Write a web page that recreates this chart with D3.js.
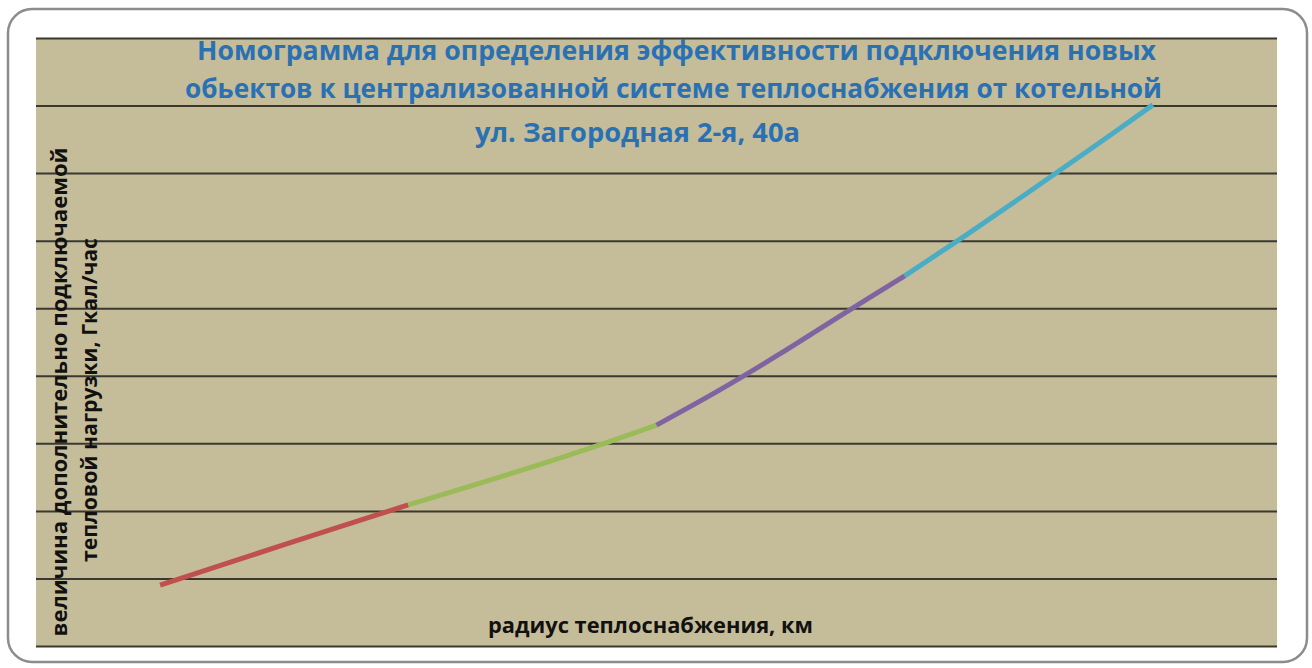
<!DOCTYPE html>
<html>

<head>
  <title>Номограмма</title>
  <meta charset="UTF-8" />
  <script src="https://d3js.org/d3.v7.min.js"></script>
</head>

<style>
  body {
    margin: 0;
    background: white;
    font-family: 'Open Sans', 'Noto Sans', sans-serif;
  }

  .title {
    fill: #2a71b4;
    font-weight: bold;
    font-size: 27px;
  }

  .axis-label {
    fill: #111;
    font-weight: bold;
    font-size: 21px;
  }
</style>

<body>
  <svg></svg>
  <script>
    // curve, split into four coloured pieces
    const radiusKm = [1, 2, 3, 4, 4.5, 5, 5.5, 6, 6.5, 7, 7.5, 8, 8.5, 9];
    const loadGcal = [0.9, 1.5, 2.09, 2.65, 2.95, 3.27, 3.78, 4.33, 4.91, 5.48, 6.09, 6.72, 7.36, 8.01];
    const pieces = [[0, 2], [2, 5], [5, 9], [9, 13]];
    const pieceColors = ['#c0504d', '#9bbb59', '#8064a2', '#4bacc6'];
    const gridValues = [0, 1, 2, 3, 4, 5, 6, 7, 8, 9];

    const titleLines = [
      'Номограмма для определения эффективности подключения новых',
      'обьектов к централизованной системе теплоснабжения от котельной',
      'ул. Загородная 2-я, 40а'
    ];
    const yLabelLines = [
      'величина дополнительно подключаемой',
      'тепловой нагрузки, Гкал/час'
    ];
    const xLabel = 'радиус теплоснабжения, км';

    let width = 1312,
      height = 668;

    let svg = d3.select('svg').attr('width', width).attr('height', height);

    let plotLeft = 36, plotRight = 1277, plotTop = 38, plotBottom = 646;

    let x = d3.scaleLinear().domain([0, 10]).range([plotLeft, plotRight]);
    let y = d3.scaleLinear().domain([0, 9]).range([plotBottom, plotTop]);

    // frame round everything
    svg.append('rect')
      .attr('x', 8).attr('y', 9)
      .attr('width', 1299).attr('height', 653)
      .attr('rx', 24)
      .attr('fill', 'white')
      .attr('stroke', '#8c8c8c')
      .attr('stroke-width', 2.5);

    svg.append('rect')
      .attr('x', plotLeft).attr('y', plotTop)
      .attr('width', plotRight - plotLeft).attr('height', plotBottom - plotTop)
      .attr('fill', '#c5bd99');

    // horizontal grid
    svg.append('g')
      .attr('transform', 'translate(' + plotLeft + ',0)')
      .call(d3.axisRight(y).tickValues(gridValues).tickSize(plotRight - plotLeft).tickFormat(''))
      .call(g => g.select('.domain').remove())
      .call(g => g.selectAll('line').attr('stroke', '#3b3830').attr('stroke-width', 2));

    // title
    let titlePos = [[197, 60, 959], [185, 98, 977], [475, 142, 325]];
    svg.append('g')
      .selectAll('text')
      .data(titleLines)
      .enter()
      .append('text')
      .attr('class', 'title')
      .attr('x', (d, i) => titlePos[i][0])
      .attr('y', (d, i) => titlePos[i][1])
      .attr('textLength', (d, i) => titlePos[i][2])
      .attr('lengthAdjust', 'spacingAndGlyphs')
      .text(d => d);

    // y label, rotated
    let yPos = [[67, 392, 489], [97, 400, 324]];
    svg.append('g')
      .selectAll('text')
      .data(yLabelLines)
      .enter()
      .append('text')
      .attr('class', 'axis-label')
      .attr('text-anchor', 'middle')
      .attr('transform', (d, i) => 'translate(' + yPos[i][0] + ',' + yPos[i][1] + ') rotate(-90)')
      .attr('textLength', (d, i) => yPos[i][2])
      .attr('lengthAdjust', 'spacingAndGlyphs')
      .text(d => d);

    svg.append('text')
      .attr('class', 'axis-label')
      .attr('x', 488).attr('y', 633)
      .attr('textLength', 325)
      .attr('lengthAdjust', 'spacingAndGlyphs')
      .text(xLabel);

    let line = d3.line()
      .x(i => x(radiusKm[i]))
      .y(i => y(loadGcal[i]))
      .curve(d3.curveCatmullRom);

    svg.append('g')
      .selectAll('path')
      .data(pieces)
      .enter()
      .append('path')
      .attr('d', p => line(d3.range(p[0], p[1] + 1)))
      .attr('fill', 'none')
      .attr('stroke', (p, i) => pieceColors[i])
      .attr('stroke-width', 5);
  </script>
</body>

</html>
